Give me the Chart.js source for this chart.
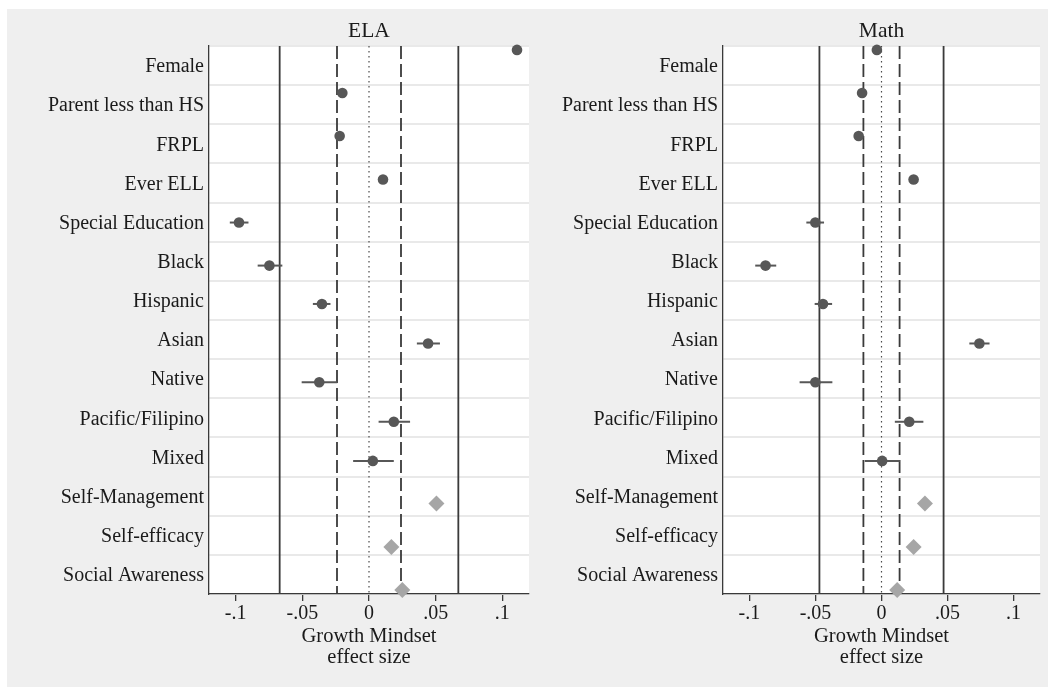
<!DOCTYPE html>
<html>
<head>
<meta charset="utf-8">
<title>Growth Mindset effect size</title>
<script src="https://cdn.jsdelivr.net/npm/chart.js@4.4.1/dist/chart.umd.min.js"></script>
<style>
  html, body { margin: 0; padding: 0; background: #ffffff; }
  #frame { position: absolute; left: 7px; top: 9px; width: 1041px; height: 678px; background: #efefef; }
  canvas { position: absolute; top: 9px; }
  #ela { left: 7px; }
  #math { left: 537px; }
</style>
</head>
<body>
<div id="frame"></div>
<canvas id="ela" width="530" height="678"></canvas>
<canvas id="math" width="511" height="678"></canvas>
<script>
// Row labels, top to bottom
const categories = [
  'Female', 'Parent less than HS', 'FRPL', 'Ever ELL', 'Special Education',
  'Black', 'Hispanic', 'Asian', 'Native', 'Pacific/Filipino', 'Mixed',
  'Self-Management', 'Self-efficacy', 'Social Awareness'
];
// Survey-based measures are drawn as diamonds without intervals
const surveyMeasures = ['Self-Management', 'Self-efficacy', 'Social Awareness'];

// Position of each estimate on the 0-14 row scale
const markerRow = [0.10, 1.20, 2.30, 3.41, 4.51, 5.61, 6.59, 7.60, 8.59, 9.60, 10.60, 11.69, 12.80, 13.90];

// ELA estimates and confidence bounds
const elaEstimate = [0.111, -0.020, -0.022, 0.0105, -0.0975, -0.0747, -0.0353, 0.0443, -0.0373, 0.0186, 0.0029, 0.0506, 0.0168, 0.0250];
const elaLower    = [0.109, -0.022, -0.024, 0.0085, -0.1044, -0.0835, -0.0421, 0.0359, -0.0505, 0.0072, -0.0119, null, null, null];
const elaUpper    = [0.113, -0.018, -0.020, 0.0125, -0.0904, -0.0650, -0.0289, 0.0532, -0.0238, 0.0308, 0.0186, null, null, null];

// Math estimates and confidence bounds
const mathEstimate = [-0.0035, -0.0147, -0.0173, 0.0243, -0.0501, -0.0878, -0.0443, 0.0741, -0.0501, 0.0210, 0.0005, 0.0329, 0.0243, 0.0119];
const mathLower    = [-0.0055, -0.0167, -0.0193, 0.0223, -0.0569, -0.0956, -0.0506, 0.0665, -0.0620, 0.0101, -0.0127, null, null, null];
const mathUpper    = [-0.0015, -0.0127, -0.0153, 0.0263, -0.0435, -0.0797, -0.0374, 0.0818, -0.0372, 0.0317, 0.0139, null, null, null];

// Reference lines
const elaSolid = [-0.067, 0.067];
const elaDashed = [-0.024, 0.024];
const mathSolid = [-0.047, 0.047];
const mathDashed = [-0.0137, 0.0137];
const zeroLine = [0];

// Horizontal axis
const xTicks = [-0.1, -0.05, 0, 0.05, 0.1];
const xTickLabels = ['-.1', '-.05', '0', '.05', '.1'];

const serif = '"Liberation Serif", "Times New Roman", serif';
const ink = '#1a1a1a';
const axisInk = '#3a3a3a';
const markInk = '#575757';
const diamondInk = '#a6a6a6';

const plotBackground = {
  id: 'plotBackground',
  beforeDraw(chart) {
    const a = chart.chartArea;
    const ctx = chart.ctx;
    ctx.save();
    ctx.fillStyle = '#ffffff';
    ctx.fillRect(a.left, a.top, a.right - a.left, a.bottom - a.top);
    ctx.restore();
  }
};

function verticalLine(x, style) {
  return Object.assign({
    type: 'scatter',
    showLine: true,
    data: [{ x: x, y: 0 }, { x: x, y: 14 }],
    pointRadius: 0,
    xAxisID: 'x',
    yAxisID: 'yRow',
    order: 3
  }, style);
}

function buildChart(id, title, est, lo, hi, solid, dashed, axisWidth, rightPad) {
  const datasets = [];
  solid.forEach(v => datasets.push(verticalLine(v, { borderColor: axisInk, borderWidth: 1.8 })));
  dashed.forEach(v => datasets.push(verticalLine(v, { borderColor: axisInk, borderWidth: 1.8, borderDash: [13, 5] })));
  zeroLine.forEach(v => datasets.push(verticalLine(v, { borderColor: '#4a4a4a', borderWidth: 1.2, borderDash: [1.5, 3.5] })));

  categories.forEach((c, i) => {
    if (lo[i] === null) return;
    datasets.push({
      type: 'scatter',
      showLine: true,
      data: [{ x: lo[i], y: markerRow[i] }, { x: hi[i], y: markerRow[i] }],
      borderColor: markInk,
      borderWidth: 2,
      pointRadius: 0,
      xAxisID: 'x',
      yAxisID: 'yRow',
      clip: false,
      order: 2
    });
  });

  const circles = [], diamonds = [];
  categories.forEach((c, i) => {
    const p = { x: est[i], y: markerRow[i] };
    (surveyMeasures.includes(c) ? diamonds : circles).push(p);
  });
  datasets.push({
    type: 'scatter', data: circles, pointStyle: 'circle', pointRadius: 5.3,
    backgroundColor: markInk, borderWidth: 0, xAxisID: 'x', yAxisID: 'yRow', clip: false, order: 0
  });
  datasets.push({
    type: 'scatter', data: diamonds, pointStyle: 'rectRot', pointRadius: 8,
    backgroundColor: diamondInk, borderWidth: 0, xAxisID: 'x', yAxisID: 'yRow', clip: false, order: 0
  });

  return new Chart(document.getElementById(id), {
    type: 'scatter',
    data: { datasets },
    plugins: [plotBackground],
    options: {
      responsive: false,
      animation: false,
      events: [],
      layout: { padding: { left: 0, right: rightPad, top: 0, bottom: 0 } },
      plugins: {
        legend: { display: false },
        tooltip: { enabled: false },
        title: {
          display: true, text: title, fullSize: false, color: ink,
          font: { family: serif, size: 21.5, weight: 'normal', lineHeight: 1.2 },
          padding: { top: 9.5, bottom: 1.7 }
        }
      },
      scales: {
        x: {
          type: 'linear', min: -0.12, max: 0.12,
          afterBuildTicks: s => { s.ticks = xTicks.map(v => ({ value: v })); },
          afterFit: s => { s.height = 93; },
          ticks: {
            callback: (v, i) => xTickLabels[i],
            color: ink, font: { family: serif, size: 20 },
            padding: 1, maxRotation: 0, autoSkip: false
          },
          grid: { drawOnChartArea: false, drawTicks: true, tickLength: 7, color: axisInk, lineWidth: 1.3 },
          border: { color: axisInk, width: 1.3 },
          title: {
            display: true, text: ['Growth Mindset', 'effect size'], color: ink,
            font: { family: serif, size: 20.5, lineHeight: 1.03 },
            padding: { top: 0, bottom: 19 }
          }
        },
        y: {
          type: 'category', labels: categories, offset: true, position: 'left',
          afterFit: s => { s.width = axisWidth; },
          grid: { offset: true, drawTicks: false, color: '#e9e9e9', lineWidth: 2 },
          border: { color: axisInk, width: 1.3 },
          ticks: { color: ink, font: { family: serif, size: 20 }, padding: 5, labelOffset: 1.5, autoSkip: false }
        },
        yRow: { type: 'linear', axis: 'y', min: 0, max: 14, reverse: true, display: false }
      }
    }
  });
}

buildChart('ela', 'ELA', elaEstimate, elaLower, elaUpper, elaSolid, elaDashed, 202, 8);
buildChart('math', 'Math', mathEstimate, mathLower, mathUpper, mathSolid, mathDashed, 186, 6);
</script>
</body>
</html>
